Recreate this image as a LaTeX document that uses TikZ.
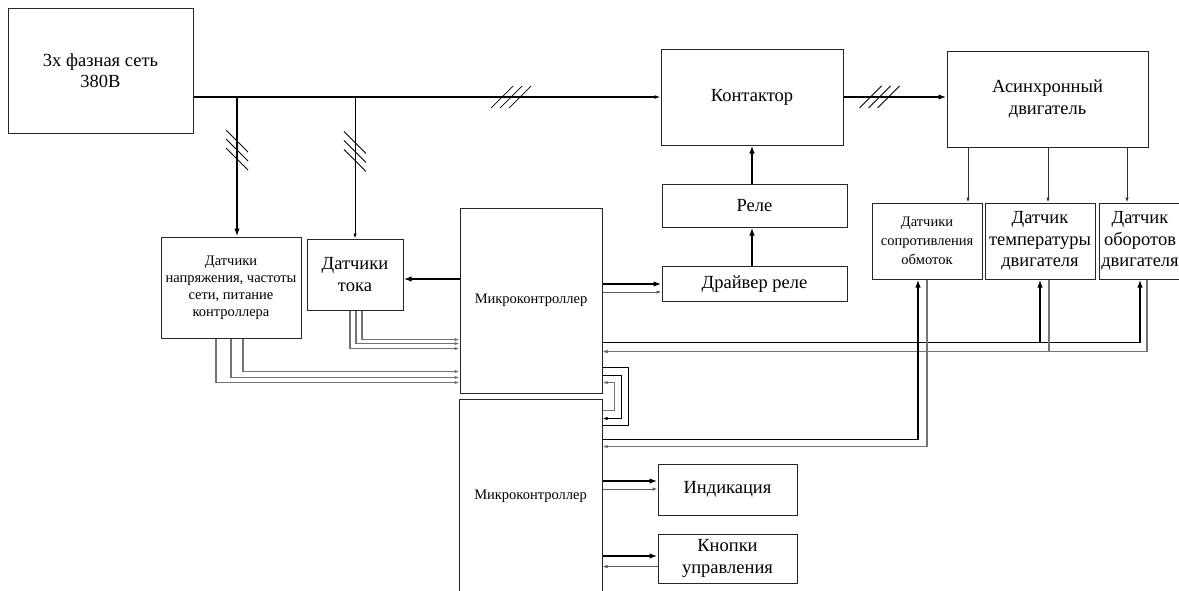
\documentclass[tikz,border=0pt]{standalone}
\usepackage{fontspec}
\setmainfont{Liberation Serif}
\usetikzlibrary{calc}
\usetikzlibrary{arrows.meta}

\begin{document}
\begin{tikzpicture}[
    x=1pt, y=-1pt,
    % Define styles for the blocks
    blk_big/.style={rectangle, draw=black!85, line width=1pt, inner sep=0pt, align=center, font=\fontsize{18.5}{21.5}\selectfont},
    blk_small/.style={blk_big, font=\fontsize{14.5}{17}\selectfont},
    % Define styles for the wires
    w_pow/.style={draw=black, line width=1.8pt},
    w_ctrl/.style={w_pow, -{Latex[length=8pt, width=5.5pt]}},
    w_thin/.style={draw=black!65, line width=1pt, -{Latex[length=5pt, width=3.5pt]}},
    w_sig/.style={draw=black!55, line width=1.3pt, -{Latex[length=5pt, width=3.5pt]}},
    hashmark/.style={draw=black, line width=0.8pt}
]

    % --- Configuration ---
    \def\sigGap{8}   % distance between a control line and its return line

    % --- Helper Macro for the three-phase marks ---
    % Arguments: (coordinate on the wire, rotation)
    \newcommand{\phasemarks}[2]{
        \begin{scope}[shift={(#1)}, rotate=#2]
            \foreach \k in {-9,0,9}
                \draw[hashmark] (\k-11,11) -- (\k+11,-11);
        \end{scope}
    }

    \useasboundingbox (0,0) rectangle (1179,590);

    % ================= POWER PART =================
    \node[blk_big, minimum width=185pt, minimum height=125pt] (net) at (100.5,70.5) {3х фазная сеть\\380В};
    \node[blk_big, minimum width=182pt, minimum height=96pt] (contactor) at (752,97) {Контактор};
    \node[blk_big, minimum width=201pt, minimum height=96pt] (motor) at (1047.5,99) {Асинхронный\\двигатель};
    \node[blk_big, minimum width=185pt, minimum height=43pt] (relay) at (754.5,205.5) {Реле};
    \node[blk_big, minimum width=185pt, minimum height=35pt] (driver) at (754.5,284) {Драйвер реле};

    % ================= SENSORS =================
    \node[blk_small, minimum width=140pt, minimum height=101pt] (s_volt) at (231,287.5) {Датчики\\напряжения, частоты\\сети, питание\\контроллера};
    \node[blk_big, minimum width=96pt, minimum height=71pt] (s_cur) at (355,274.5) {Датчики\\тока};
    \node[blk_small, minimum width=110pt, minimum height=76pt, font=\fontsize{14.5}{19}\selectfont] (s_wind) at (927,241) {Датчики\\сопротивления\\обмоток};
    \node[blk_big, minimum width=110pt, minimum height=76pt] (s_temp) at (1040,241) {Датчик\\температуры\\двигателя};
    \node[blk_big, minimum width=82pt, minimum height=76pt] (s_rpm) at (1140,241) {Датчик\\оборотов\\двигателя};

    % ================= CONTROL PART =================
    \node[blk_small, minimum width=142pt, minimum height=185pt] (mcu_a) at (531,300.5) {Микроконтроллер};
    \node[blk_small, minimum width=143pt, minimum height=194pt] (mcu_b) at (530.5,496) {Микроконтроллер};
    \node[blk_big, minimum width=139pt, minimum height=51pt] (ind) at (727.5,489.5) {Индикация};
    \node[blk_big, minimum width=139pt, minimum height=49pt] (btn) at (727.5,558.5) {Кнопки\\управления};

    % --- Power lines ---
    \draw[w_pow, -{Latex[length=6pt, width=4pt]}] (net.east |- contactor.west) -- coordinate[pos=0.68] (mk_bus) (contactor.west);
    \draw[w_ctrl] (contactor.east) -- coordinate[pos=0.35] (mk_mot) (motor.west |- contactor.east);
    \coordinate (tap_v) at ($(s_volt.north)+(6,0)$);
    \draw[w_ctrl] (tap_v |- contactor.west) -- coordinate[pos=0.38] (mk_v) (tap_v);
    \draw[w_thin, draw=black] (s_cur.north |- contactor.west) -- coordinate[pos=0.385] (mk_c) (s_cur.north);
    \phasemarks{mk_bus}{0}
    \phasemarks{mk_mot}{0}
    \phasemarks{mk_v}{90}
    \phasemarks{mk_c}{90}

    % --- Relay chain ---
    \draw[w_ctrl] (contactor.south |- driver.north) -- (contactor.south |- relay.south);
    \draw[w_ctrl] (contactor.south |- relay.north) -- (contactor.south);
    \draw[w_ctrl] (mcu_a.east |- driver.west) -- (driver.west);
    \draw[w_thin] ($(mcu_a.east |- driver.west)+(0,\sigGap)$) -- ($(driver.west)+(0,\sigGap)$);

    % --- Network sensors -> first microcontroller ---
    \coordinate (i_cur) at ($(s_cur.east)+(0,4.5)$);
    \draw[w_ctrl] (mcu_a.west |- i_cur) -- (i_cur);
    \foreach \dx/\dy in {-5/-45, 1/-50, 7/-54}
        \draw[w_sig] ($(s_cur.south)+(\dx,0)$) |- ($(mcu_a.south west)+(0,\dy)$);
    \foreach \dx/\dy in {-15/-11, 0/-16, 12/-22}
        \draw[w_sig] ($(s_volt.south)+(\dx,0)$) |- ($(mcu_a.south west)+(0,\dy)$);

    % --- Motor -> motor sensors ---
    \foreach \s/\dx in {s_wind/41, s_temp/8, s_rpm/-13} {
        \coordinate (t_\s) at ($(\s.north)+(\dx,0)$);
        \draw[w_thin, draw=black!80] (t_\s |- motor.south) -- (t_\s);
    }

    % --- Motor sensors <-> microcontrollers ---
    \coordinate (bus_a) at ($(mcu_a.south east)+(0,-51)$);
    \coordinate (ret_a) at ($(mcu_a.south east)+(0,-42)$);
    \draw[w_ctrl] (bus_a) -| (s_temp.south);
    \draw[w_ctrl] (bus_a) -| (s_rpm.south);
    \draw[w_sig] ($(s_temp.south)+(9,0)$) |- (ret_a);
    \draw[w_sig] ($(s_rpm.south)+(7,0)$) |- (ret_a);

    \coordinate (bus_b) at ($(mcu_b.north east)+(0,41)$);
    \draw[w_ctrl] (bus_b) -| ($(s_wind.south)+(-9,0)$);
    \draw[w_sig] (s_wind.south) |- ($(mcu_b.north east)+(0,48)$);

    % --- Link between the two microcontrollers ---
    \draw[w_pow] ($(mcu_a.south east)+(0,-26)$) -- ++(26,0) |- ($(mcu_b.north east)+(0,27)$);
    \draw[w_thin, draw=black] ($(mcu_a.south east)+(0,-18)$) -- ++(19,0) |- ($(mcu_b.north east)+(0,20)$);
    \draw[w_sig] ($(mcu_b.north east)+(0,12)$) -- ++(12,0) |- ($(mcu_a.south east)+(0,-11)$);

    % --- Indication and buttons ---
    \draw[w_ctrl] ($(mcu_b.east |- ind.west)+(0,-8.5)$) -- ($(ind.west)+(0,-8.5)$);
    \draw[w_thin] ($(mcu_b.east |- ind.west)+(0,-0.5)$) -- ($(ind.west)+(0,-0.5)$);
    \draw[w_ctrl] ($(mcu_b.east |- btn.west)+(0,-2.5)$) -- ($(btn.west)+(0,-2.5)$);
    \draw[w_thin] ($(btn.west)+(0,\sigGap)$) -- ($(mcu_b.east |- btn.west)+(0,\sigGap)$);

\end{tikzpicture}
\end{document}
